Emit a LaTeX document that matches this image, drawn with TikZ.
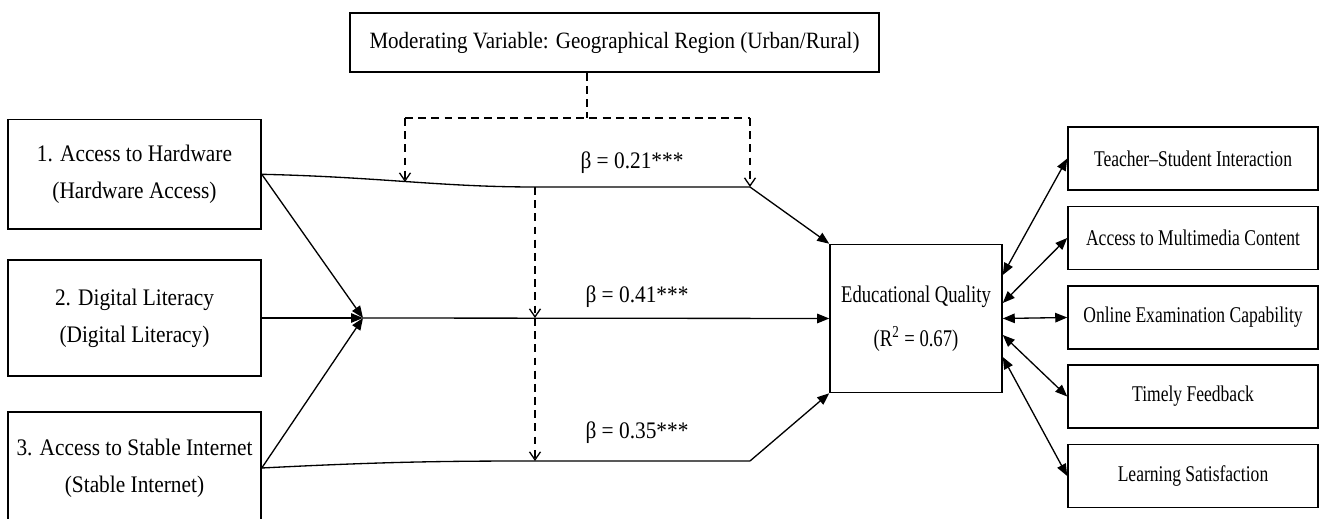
\documentclass[tikz,border=0pt]{standalone}
\usepackage{fontspec}
\setmainfont[FakeStretch=0.9,Ligatures=TeX]{Liberation Serif}
\newfontfamily\narrowfont[FakeStretch=0.78,Ligatures=TeX]{Liberation Serif}
\usetikzlibrary{arrows.meta}

\begin{document}
\begin{tikzpicture}[x=0.02cm,y=-0.02cm,
  box/.style={draw, line width=0.9pt, align=center, inner sep=0pt},
  leftbox/.style={box, minimum width=5.06cm, font=\fontsize{13.5}{21}\selectfont},
  outbox/.style={box, minimum width=5cm, minimum height=1.26cm, font=\narrowfont\fontsize{12.8}{15}\selectfont},
  beta/.style={font=\fontsize{13.5}{16}\selectfont},
  arr/.style={line width=0.75pt, -{Triangle[length=2.4mm,width=1.9mm]}},
  dbl/.style={line width=0.75pt, {Triangle[length=2.4mm,width=1.9mm]}-{Triangle[length=2.4mm,width=1.9mm]}},
  dashline/.style={line width=0.75pt, dash pattern=on 4.5pt off 3pt},
  barb/.style={-{Straight Barb[length=1.6mm,width=2.2mm]}}]
\useasboundingbox (0,0) rectangle (1330,519);
\clip (0,0) rectangle (1330,519);
\node[box, minimum width=10.58cm, minimum height=1.18cm, font=\fontsize{13.3}{16}\selectfont] (mod) at (614.5,42.5) {Moderating Variable: Geographical Region (Urban/Rural)};
\node[leftbox, minimum height=2.2cm] (hw) at (134.5,174.3) {1. Access to Hardware\\(Hardware Access)};
\node[leftbox, minimum height=2.32cm] (dl) at (134.5,318) {2. Digital Literacy\\(Digital Literacy)};
\node[leftbox, minimum height=2.24cm] (si) at (134.5,468) {3. Access to Stable Internet\\(Stable Internet)};
\node[box, minimum width=3.44cm, minimum height=2.96cm, font=\narrowfont\fontsize{13.6}{25}\selectfont] (eq) at (916,318.5) {Educational Quality\\(R\textsuperscript{2} = 0.67)};
\node[outbox] (ts) at (1193,158.5) {Teacher–Student Interaction};
\node[outbox] (amc) at (1193,238) {Access to Multimedia Content};
\node[outbox] (oec) at (1193,317.5) {Online Examination Capability};
\node[outbox] (tf) at (1193,396.5) {Timely Feedback};
\node[outbox] (ls) at (1193,476) {Learning Satisfaction};
\coordinate (j) at (363,318);
\coordinate (t1) at (405,182);
\coordinate (m1) at (535,187);
\coordinate (a1) at (750,187);
\coordinate (m3) at (535,461);
\coordinate (a3) at (750,461);
\coordinate (m0) at (587,118);
\draw[line width=0.75pt] (hw.east) .. controls (380,177) and (440,187) .. (m1) -- (a1);
\draw[arr] (a1) -- (eq.north west);
\draw[line width=0.75pt] (si.east) .. controls (380,462) and (440,461) .. (m3) -- (a3);
\draw[arr] (a3) -- (eq.south west);
\draw[arr] (hw.east) -- (j);
\draw[arr] (dl.east) -- (j);
\draw[arr] (si.east) -- (j);
\draw[arr] (j) -- (eq.west);
\draw[dashline] (mod.south -| m0) -- (m0);
\draw[dashline] (t1 |- m0) -- (a1 |- m0);
\draw[dashline,barb] (t1 |- m0) -- (t1);
\draw[dashline,barb] (a1 |- m0) -- (a1);
\draw[dashline,barb] (m1) -- (m1 |- j);
\draw[dashline,barb] (m1 |- j) -- (m3);
\node[beta] (b1) at (632,163) {β = 0.21***};
\node[beta] (b2) at (637,297) {β = 0.41***};
\node[beta] (b3) at (637,433) {β = 0.35***};
\draw[dbl] ([yshift=0.87cm]eq.east) -- (ts.west);
\draw[dbl] ([yshift=0.31cm]eq.east) -- (amc.west);
\draw[dbl] (eq.east) -- (oec.west);
\draw[dbl] ([yshift=-0.33cm]eq.east) -- (tf.west);
\draw[dbl] ([yshift=-0.77cm]eq.east) -- (ls.west);
\end{tikzpicture}
\end{document}
